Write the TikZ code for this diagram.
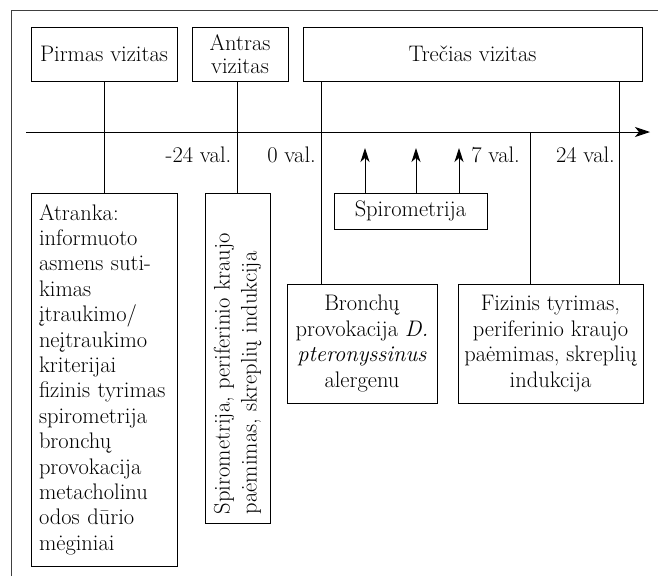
\documentclass[tikz,border=0pt]{standalone}
\usetikzlibrary{arrows.meta,calc}
\begin{document}
\begin{tikzpicture}[x=1pt,y=-1pt,
  every node/.style={font=\fontsize{22.5}{25.5}\selectfont},
  box/.style={draw,line width=0.9pt,inner sep=0pt,align=center},
  conn/.style={line width=0.9pt},
  arr/.style={line width=0.9pt,-{Stealth[length=14pt,width=9pt,inset=4pt]}},
  lbl/.style={anchor=base east,inner sep=0pt}]
\useasboundingbox (0,0) rectangle (658,576);
% frame
\draw[line width=0.9pt,black!75] (11,576) -- (11,10) -- (658,10);
% top boxes
\node[box,minimum width=146,minimum height=54] (p1) at (104,54) {Pirmas vizitas};
\node[box,minimum width=96,minimum height=54,font=\fontsize{22.5}{23.5}\selectfont] (p2) at (240,54) {Antras\\vizitas};
\node[box,minimum width=339,minimum height=54] (p3) at (472.5,54) {Trečias vizitas};
% axis
\coordinate (ax0) at (26,132);
\coordinate (ax1) at (650,132);
\draw[line width=0.9pt,-{Stealth[length=15pt,width=10pt,inset=4pt]}] (ax0) -- (ax1);
% time points
\coordinate (tm24) at (237.5,132);
\coordinate (t0) at (321,132);
\coordinate (t7) at (530,132);
\coordinate (t24) at (619,132);
\node[lbl] (lm24) at ($(tm24)+(-6,30)$) {-24 val.};
\node[lbl] (l0) at ($(t0)+(-5,30)$) {0 val.};
\node[lbl] (l7) at ($(t7)+(-10,30)$) {7 val.};
\node[lbl] (l24) at ($(t24)+(-4,30)$) {24 val.};
% lower boxes
\node[box,minimum width=146,minimum height=373,text width=138,align=left,
  font=\fontsize{22.5}{25.4}\selectfont] (a1) at (104,379.5)
  {\hspace*{4pt}\begin{minipage}[t]{134pt}\raggedright
  Atranka:\\informuoto\\asmens suti-\\kimas\\įtraukimo/\\neįtraukimo\\kriterijai\\fizinis tyrimas\\spirometrija\\bronchų\\provokacija\\metacholinu\\odos dūrio\\mėginiai\end{minipage}};
\node[box,rotate=90,minimum width=330,minimum height=65,text width=312,align=left,
  font=\fontsize{22.5}{27}\selectfont] (a2) at (237.5,358)
  {Spirometrija, periferinio kraujo\\paėmimas, skreplių indukcija};
\node[box,minimum width=153,minimum height=36] (sp) at (410.5,211) {Spirometrija};
\node[box,minimum width=150,minimum height=119] (b3) at (362,343.5)
  {Bronchų\\provokacija \textit{D.}\\\textit{pteronyssinus}\\alergenu};
\node[box,minimum width=185,minimum height=119] (f3) at (550.5,343.5)
  {Fizinis tyrimas,\\periferinio kraujo\\paėmimas, skreplių\\indukcija};
% connectors
\draw[conn] (p1.south) -- (a1.north);
\draw[conn] (tm24 |- p2.south) -- (tm24 |- a2.east);
\draw[conn] (t0 |- p3.south) -- (t0 |- b3.north);
\draw[conn] (t24 |- p3.south) -- (t24 |- f3.north);
\draw[conn] (t7) -- (t7 |- f3.north);
% spirometry arrows
\coordinate (s1) at (365,148);
\coordinate (s2) at (416,148);
\coordinate (s3) at (459,148);
\draw[arr] (s1 |- sp.north) -- (s1);
\draw[arr] (s2 |- sp.north) -- (s2);
\draw[arr] (s3 |- sp.north) -- (s3);
\end{tikzpicture}
\end{document}
